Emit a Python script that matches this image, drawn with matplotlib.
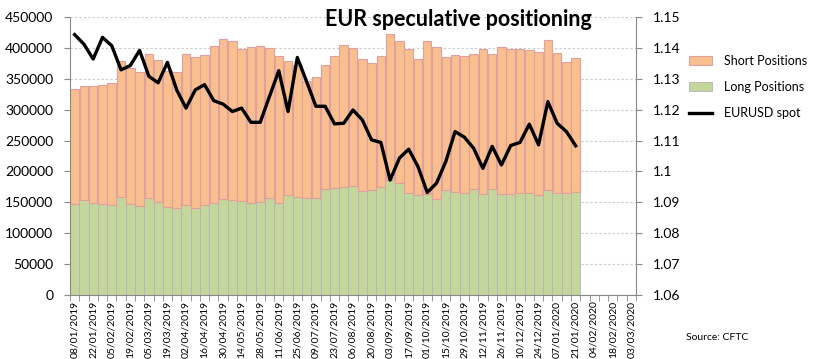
import matplotlib
matplotlib.use("Agg")
import matplotlib.pyplot as plt
import numpy as np
import pandas as pd

# weekly CFTC report dates (axis runs a few weeks past the last report)
dates = pd.date_range("2019-01-08", periods=61, freq="7D")
labels = [d.strftime("%d/%m/%Y") for d in dates]

# long positions (contracts)
long_pos = [147300, 153200, 148400, 146800, 145100, 158100, 147300, 143500, 156500, 151100,
            142400, 140800, 145100, 140800, 145100, 148400, 155400, 153200, 152200, 149500,
            151100, 156500, 149500, 161900, 159200, 157500, 157500, 171600, 173800, 175400,
            177000, 167800, 169400, 174300, 186800, 180800, 164600, 161900, 163000, 155400,
            169400, 167300, 165700, 171100, 164100, 171100, 164100, 164100, 165700, 164600,
            161900, 170000, 164600, 164600, 167300]

# short positions (contracts)
short_pos = [186500, 185400, 190200, 193500, 198400, 221100, 220000, 217300, 234000, 229700,
             219500, 220000, 244900, 243800, 243800, 255100, 258900, 258400, 245300, 251800,
             251800, 243200, 237200, 217300, 213500, 189200, 195200, 201100, 212900, 229200,
             222700, 214600, 206000, 212400, 235000, 230800, 234000, 220500, 248600, 245900,
             215700, 221600, 221600, 218900, 234500, 218900, 237200, 234500, 232900, 232400,
             231300, 243200, 227000, 212400, 216200]

# EURUSD spot
spot = [1.1443, 1.1412, 1.1364, 1.1434, 1.1407, 1.1329, 1.1343, 1.1392, 1.1308, 1.1287,
        1.1353, 1.1264, 1.1205, 1.1264, 1.1281, 1.1229, 1.1218, 1.1194, 1.1205, 1.1159,
        1.1159, 1.1243, 1.1326, 1.1194, 1.1369, 1.1291, 1.1211, 1.1211, 1.1154, 1.1156,
        1.1199, 1.1167, 1.1102, 1.1094, 1.0972, 1.1043, 1.1072, 1.1016, 1.0932, 1.0962,
        1.1032, 1.1129, 1.1111, 1.1075, 1.1010, 1.1081, 1.1021, 1.1084, 1.1094, 1.1153,
        1.1086, 1.1226, 1.1156, 1.1129, 1.1083]

plt.rcParams["font.family"] = ["Lato", "DejaVu Sans"]

fig = plt.figure(figsize=(8.17, 3.59), dpi=100)
ax = fig.add_axes([70 / 817, 1 - 295 / 359, 566 / 817, 278 / 359])

x = np.arange(len(long_pos))
ax.bar(x, long_pos, width=1.0, color="#C4D79B", edgecolor="#B8B0C0", linewidth=0.6,
       label="Long Positions", zorder=2)
ax.bar(x, short_pos, bottom=long_pos, width=0.92, color="#FABF8F", edgecolor="#E0A0A0",
       linewidth=0.8, label="Short Positions", zorder=2)

ax.set_xlim(-0.5, len(dates) - 0.5)
ax.set_ylim(0, 450000)
ax.set_yticks(np.arange(0, 450001, 50000))
ax.yaxis.grid(True, linestyle=(0, (2, 2)), color="#C8C8C8", linewidth=0.8)
ax.set_axisbelow(True)
ax.tick_params(axis="y", labelsize=10, length=4, color="#888888", pad=8)

ax.set_xticks(np.arange(0, len(dates), 2))
ax.set_xticklabels(labels[::2], rotation=90, fontsize=7.5)
ax.set_xticks(np.arange(-0.5, len(dates), 1), minor=True)
ax.tick_params(axis="x", which="major", length=0, pad=4)
ax.tick_params(axis="x", which="minor", length=4, color="#888888")

for s in ["top", "right"]:
    ax.spines[s].set_visible(False)
for s in ["left", "bottom"]:
    ax.spines[s].set_color("#888888")

ax2 = ax.twinx()
ax2.plot(x, spot, color="black", linewidth=2.4, label="EURUSD spot", zorder=3)
ax2.set_ylim(1.06, 1.15)
ax2.set_yticks(np.arange(1.06, 1.1501, 0.01))
ax2.set_yticklabels(["1.06", "1.07", "1.08", "1.09", "1.1", "1.11", "1.12", "1.13", "1.14", "1.15"])
ax2.tick_params(axis="y", labelsize=10, length=4, color="#888888", pad=8)
for s in ["top", "left", "bottom"]:
    ax2.spines[s].set_visible(False)
ax2.spines["right"].set_color("#888888")

ax.text(0.686, 0.99, "EUR speculative positioning", transform=ax.transAxes,
        ha="center", va="center", fontsize=15.5, fontweight="bold", zorder=5)

h1, l1 = ax.get_legend_handles_labels()
h2, l2 = ax2.get_legend_handles_labels()
fig.legend([h1[1], h1[0], h2[0]], [l1[1], l1[0], l2[0]], loc="upper left",
           bbox_to_anchor=(0.83, 0.879), frameon=False, fontsize=9,
           handlelength=1.85, handletextpad=0.9, labelspacing=1.15)

fig.text(0.840, 0.061, "Source: CFTC", fontsize=7.5, va="center")

fig.savefig("out.png", dpi=100)
